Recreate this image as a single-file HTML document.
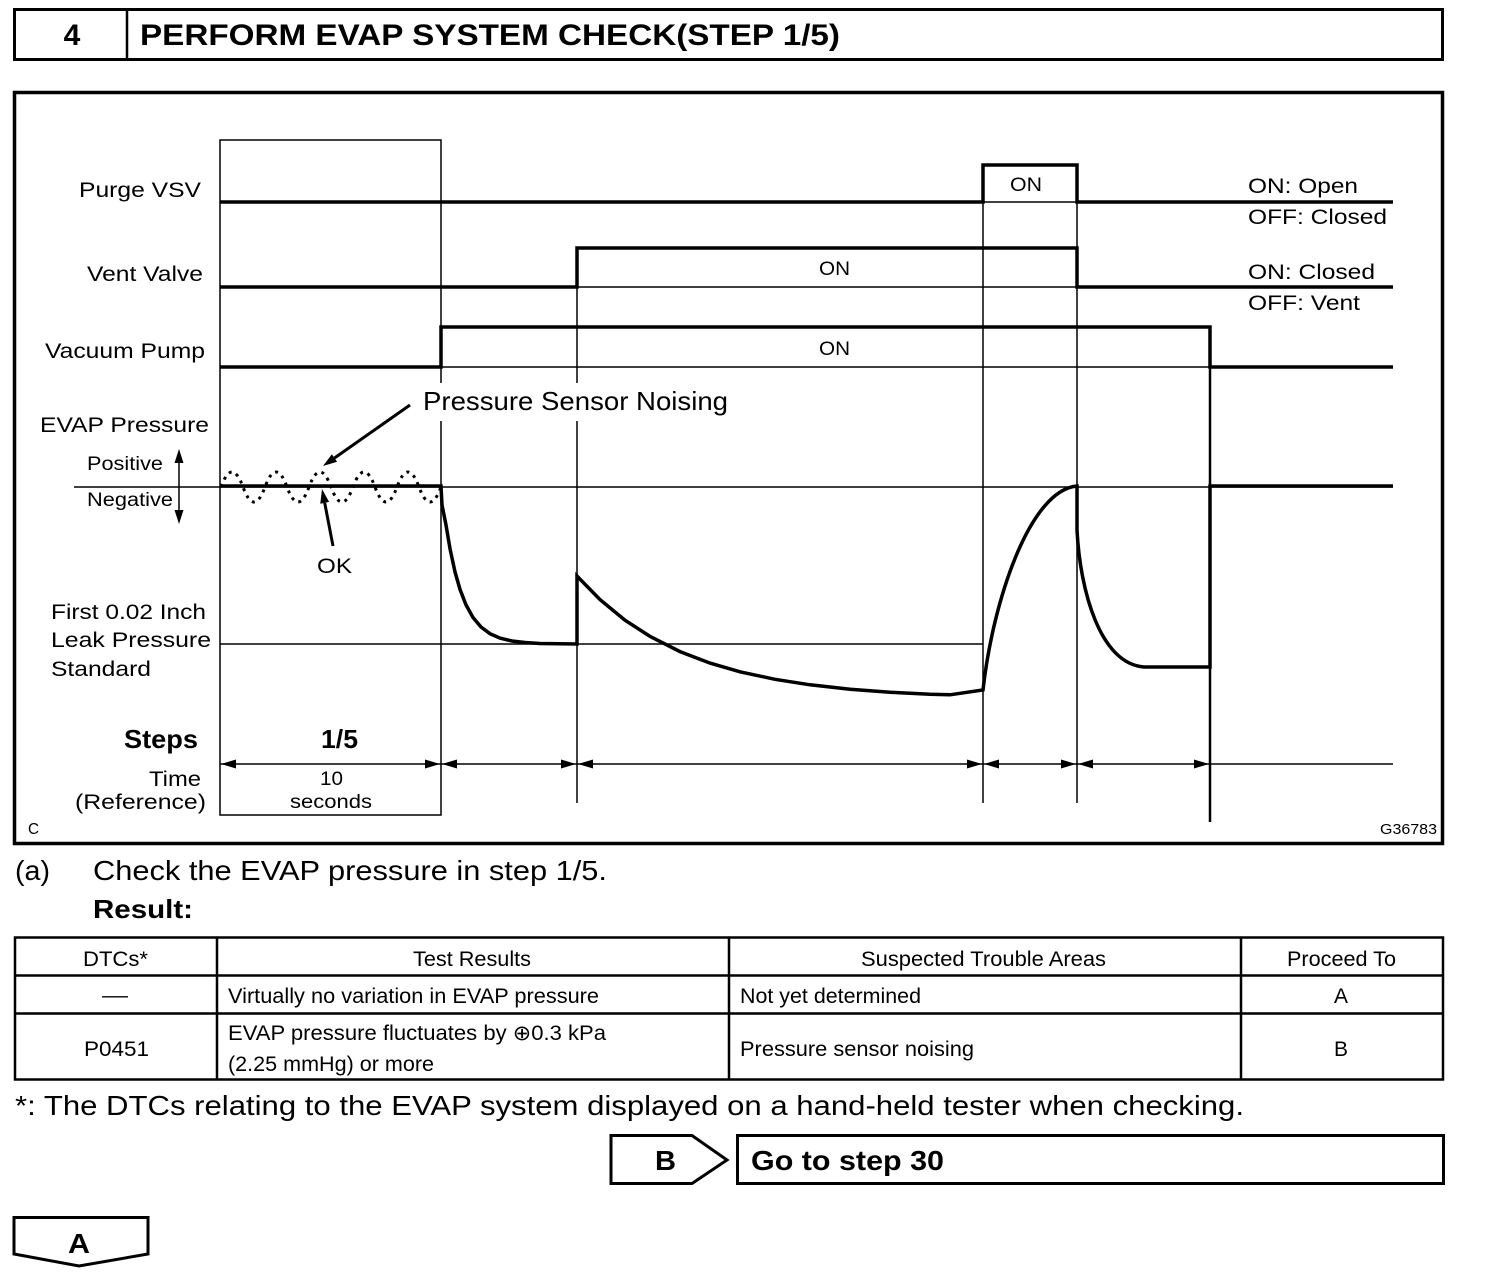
<!DOCTYPE html>
<html><head><meta charset="utf-8"><style>
html,body{margin:0;padding:0;background:#fff;}
svg{display:block;}
text{font-family:"Liberation Sans","DejaVu Sans",sans-serif;fill:#000;}
.b{font-weight:bold;}
</style></head><body>
<svg width="1504" height="1278" viewBox="0 0 1504 1278" xmlns="http://www.w3.org/2000/svg">
<rect x="0" y="0" width="1504" height="1278" fill="#fff"/>

<!-- Header -->
<rect x="14.5" y="9.5" width="1428" height="50" fill="none" stroke="#000" stroke-width="3"/>
<line x1="127" y1="9" x2="127" y2="60" stroke="#000" stroke-width="2.5"/>
<text x="72" y="45" font-size="30" class="b" text-anchor="middle">4</text>
<text x="140" y="45" font-size="30" class="b" textLength="700" lengthAdjust="spacingAndGlyphs">PERFORM EVAP SYSTEM CHECK(STEP 1/5)</text>

<!-- Main frame -->
<rect x="14.5" y="92.5" width="1428" height="751" fill="none" stroke="#000" stroke-width="3.5"/>

<!-- Thin lines -->
<g stroke="#000" stroke-width="1.5" fill="none">
  <path d="M220,140 H441 V815 H220 Z"/>
  <line x1="577" y1="287" x2="577" y2="803"/>
  <line x1="983" y1="202" x2="983" y2="803"/>
  <line x1="1077" y1="202" x2="1077" y2="803"/>
  <line x1="983" y1="202" x2="1077" y2="202"/>
  <line x1="577" y1="287" x2="1077" y2="287"/>
  <line x1="441" y1="367" x2="1210" y2="367"/>
  <line x1="74" y1="487" x2="1393" y2="487"/>
  <line x1="220" y1="644" x2="983" y2="644"/>
  <line x1="220" y1="764" x2="1393" y2="764"/>
  <line x1="179" y1="460" x2="179" y2="513"/>
</g>
<g stroke="#000" stroke-width="2.5" fill="none">
  <line x1="1210" y1="367" x2="1210" y2="486"/>
  <line x1="1210" y1="667" x2="1210" y2="822"/>
</g>

<!-- Thick signal lines -->
<g stroke="#000" stroke-width="3.5" fill="none" stroke-linejoin="miter">
  <path d="M220,202 H983 V165 H1077 V202 H1393"/>
  <path d="M220,287 H577 V248 H1077 V287 H1393"/>
  <path d="M220,367 H441 V327 H1210 V367 H1393"/>
  <path d="M220,486 H441 L442,505 L446,525 L450,548.7 L455,571.9 L460,589.4 L466,604.9 L473,617.5 L481,627 L490,633.7 L500,638.1 L512,641 L525,642.5 L540,643.5 L577,644 V576 L600,599.6 L625,620.2 L650,636.4 L680,651.6 L710,663.1 L740,671.8 L775,679.3 L810,684.8 L850,689.2 L890,692.2 L930,694.3 L950,694.8 L983,690 C993,600 1030,490 1077,486 L1077,530 C1080,590 1100,665 1145,667 L1210,667 V486 H1393"/>
</g>

<!-- Dotted noise -->
<path d="M221,487 Q232,457 243,487 T265,487 T287,487 T309,487 T331,487 T353,487 T375,487 T397,487 T419,487 T441,487" stroke="#000" stroke-width="3" stroke-dasharray="3 5" fill="none"/>

<!-- Annotation arrows -->
<line x1="410" y1="405" x2="334.5" y2="458" stroke="#000" stroke-width="3"/>
<polygon points="323,466 337.1,461.7 331.9,454.3" fill="#000"/>
<line x1="333" y1="546" x2="324.7" y2="502.8" stroke="#000" stroke-width="3"/>
<polygon points="322,489 329.1,501.9 320.3,503.7" fill="#000"/>
<polygon points="179,449 174.5,463 183.5,463" fill="#000"/>
<polygon points="179,524 174.5,510 183.5,510" fill="#000"/>

<!-- Time arrowheads -->
<g fill="#000">
  <polygon points="221,764 236,759.5 236,768.5"/>
  <polygon points="440,764 425,759.5 425,768.5"/>
  <polygon points="442,764 457,759.5 457,768.5"/>
  <polygon points="576,764 561,759.5 561,768.5"/>
  <polygon points="578,764 593,759.5 593,768.5"/>
  <polygon points="982,764 967,759.5 967,768.5"/>
  <polygon points="984,764 999,759.5 999,768.5"/>
  <polygon points="1076,764 1061,759.5 1061,768.5"/>
  <polygon points="1078,764 1093,759.5 1093,768.5"/>
  <polygon points="1209,764 1194,759.5 1194,768.5"/>
</g>

<!-- Chart labels -->
<g font-size="21">
  <text x="79" y="197" textLength="122" lengthAdjust="spacingAndGlyphs">Purge VSV</text>
  <text x="87" y="281" textLength="116" lengthAdjust="spacingAndGlyphs">Vent Valve</text>
  <text x="45" y="358" textLength="160" lengthAdjust="spacingAndGlyphs">Vacuum Pump</text>
  <text x="40" y="432" textLength="169" lengthAdjust="spacingAndGlyphs">EVAP Pressure</text>
  <text x="317" y="573" textLength="35" lengthAdjust="spacingAndGlyphs">OK</text>
  <text x="51" y="619" textLength="155" lengthAdjust="spacingAndGlyphs">First 0.02 Inch</text>
  <text x="51" y="647" textLength="160" lengthAdjust="spacingAndGlyphs">Leak Pressure</text>
  <text x="51" y="676" textLength="100" lengthAdjust="spacingAndGlyphs">Standard</text>
  <text x="149" y="786" textLength="52" lengthAdjust="spacingAndGlyphs">Time</text>
  <text x="75" y="809" textLength="131" lengthAdjust="spacingAndGlyphs">(Reference)</text>
  <text x="1248" y="193" textLength="110" lengthAdjust="spacingAndGlyphs">ON: Open</text>
  <text x="1248" y="224" textLength="139" lengthAdjust="spacingAndGlyphs">OFF: Closed</text>
  <text x="1248" y="279" textLength="127" lengthAdjust="spacingAndGlyphs">ON: Closed</text>
  <text x="1248" y="310" textLength="112" lengthAdjust="spacingAndGlyphs">OFF: Vent</text>
</g>
<g font-size="19">
  <text x="87" y="470" textLength="76" lengthAdjust="spacingAndGlyphs">Positive</text>
  <text x="87" y="506" textLength="86" lengthAdjust="spacingAndGlyphs">Negative</text>
  <text x="1010" y="191" textLength="32" lengthAdjust="spacingAndGlyphs">ON</text>
  <text x="819" y="275" textLength="31" lengthAdjust="spacingAndGlyphs">ON</text>
  <text x="819" y="355" textLength="31" lengthAdjust="spacingAndGlyphs">ON</text>
  <text x="320" y="785" textLength="23" lengthAdjust="spacingAndGlyphs">10</text>
  <text x="290" y="808" textLength="82" lengthAdjust="spacingAndGlyphs">seconds</text>
</g>
<rect x="419" y="383" width="313" height="38" fill="#fff"/>
<text x="423" y="410" font-size="26" textLength="305" lengthAdjust="spacingAndGlyphs">Pressure Sensor Noising</text>
<text x="124" y="748" font-size="26" class="b" textLength="74" lengthAdjust="spacingAndGlyphs">Steps</text>
<text x="321" y="748" font-size="26" class="b" textLength="37" lengthAdjust="spacingAndGlyphs">1/5</text>
<text x="28" y="834" font-size="16" textLength="11" lengthAdjust="spacingAndGlyphs">C</text>
<text x="1380" y="834" font-size="15" textLength="57" lengthAdjust="spacingAndGlyphs">G36783</text>

<!-- (a) text -->
<text x="15" y="880" font-size="28" textLength="35" lengthAdjust="spacingAndGlyphs">(a)</text>
<text x="93" y="880" font-size="28" textLength="514" lengthAdjust="spacingAndGlyphs">Check the EVAP pressure in step 1/5.</text>
<text x="93" y="918" font-size="26" class="b" textLength="100" lengthAdjust="spacingAndGlyphs">Result:</text>

<!-- Table -->
<rect x="15" y="937.5" width="1428" height="142" fill="none" stroke="#000" stroke-width="2.5"/>
<g stroke="#000" stroke-width="2.5">
  <line x1="15" y1="975.5" x2="1443" y2="975.5"/>
  <line x1="15" y1="1013.5" x2="1443" y2="1013.5"/>
  <line x1="217" y1="937" x2="217" y2="1080"/>
  <line x1="729" y1="937" x2="729" y2="1080"/>
  <line x1="1241" y1="937" x2="1241" y2="1080"/>
</g>
<g font-size="21">
  <text x="83" y="966" textLength="65" lengthAdjust="spacingAndGlyphs">DTCs*</text>
  <text x="413" y="966" textLength="118" lengthAdjust="spacingAndGlyphs">Test Results</text>
  <text x="861" y="966" textLength="245" lengthAdjust="spacingAndGlyphs">Suspected Trouble Areas</text>
  <text x="1287" y="966" textLength="109" lengthAdjust="spacingAndGlyphs">Proceed To</text>
  <text x="102" y="1002" textLength="26" lengthAdjust="spacingAndGlyphs">—</text>
  <text x="228" y="1003" textLength="371" lengthAdjust="spacingAndGlyphs">Virtually no variation in EVAP pressure</text>
  <text x="740" y="1003" textLength="181" lengthAdjust="spacingAndGlyphs">Not yet determined</text>
  <text x="1334" y="1003" textLength="14" lengthAdjust="spacingAndGlyphs">A</text>
  <text x="84" y="1056" textLength="65" lengthAdjust="spacingAndGlyphs">P0451</text>
  <text x="228" y="1040" textLength="378" lengthAdjust="spacingAndGlyphs">EVAP pressure fluctuates by ⊕0.3 kPa</text>
  <text x="228" y="1071" textLength="206" lengthAdjust="spacingAndGlyphs">(2.25 mmHg) or more</text>
  <text x="740" y="1056" textLength="234" lengthAdjust="spacingAndGlyphs">Pressure sensor noising</text>
  <text x="1334" y="1056" textLength="14" lengthAdjust="spacingAndGlyphs">B</text>
</g>

<text x="15" y="1115" font-size="28" textLength="1229" lengthAdjust="spacingAndGlyphs">*: The DTCs relating to the EVAP system displayed on a hand-held tester when checking.</text>

<!-- B / Go to step -->
<path d="M611,1135.5 H692 L727,1160 L692,1183.5 H611 Z" fill="none" stroke="#000" stroke-width="3"/>
<text x="655" y="1170" font-size="28" class="b" textLength="21" lengthAdjust="spacingAndGlyphs">B</text>
<rect x="737.5" y="1135.5" width="706" height="48" fill="none" stroke="#000" stroke-width="3"/>
<text x="751" y="1170" font-size="28" class="b" textLength="193" lengthAdjust="spacingAndGlyphs">Go to step 30</text>

<!-- A -->
<path d="M14,1217.5 H148 V1254 L79,1266 L14,1254 Z" fill="none" stroke="#000" stroke-width="3"/>
<text x="68" y="1253" font-size="28" class="b" textLength="22" lengthAdjust="spacingAndGlyphs">A</text>
</svg>
</body></html>
